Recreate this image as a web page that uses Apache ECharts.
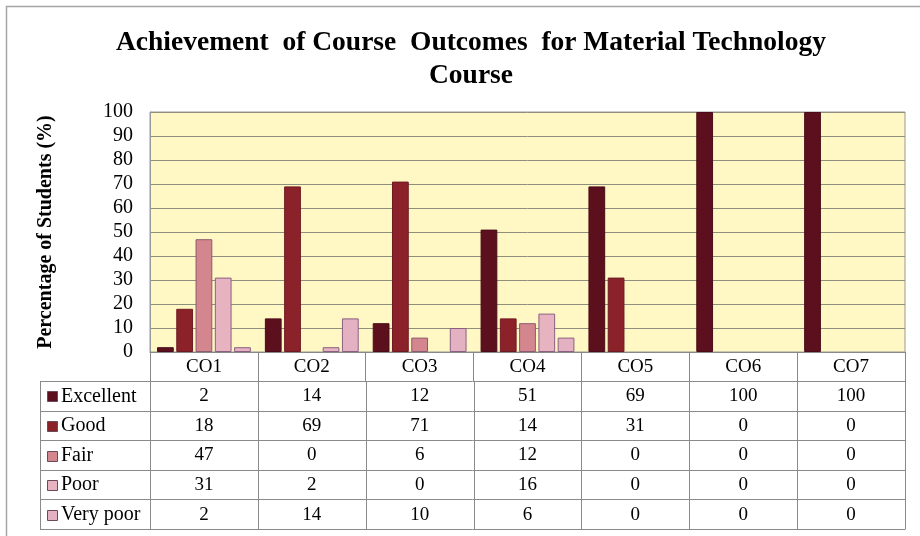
<!DOCTYPE html>
<html>
<head>
<meta charset="utf-8">
<script src="https://cdn.jsdelivr.net/npm/echarts@6/dist/echarts.min.js"></script>
<style>
html,body{margin:0;padding:0;background:#fff;}
#chart{width:920px;height:536px;}
</style>
</head>
<body>
<div id="chart"></div>
<script>
var categories = ['CO1','CO2','CO3','CO4','CO5','CO6','CO7'];
var seriesNames = ['Excellent','Good','Fair','Poor','Very poor'];
var excellent = [2,14,12,51,69,100,100];
var good = [18,69,71,14,31,0,0];
var fair = [47,0,6,12,0,0,0];
var poor = [31,2,0,16,0,0,0];
var veryPoor = [2,14,10,6,0,0,0];
var yTicks = [0,10,20,30,40,50,60,70,80,90,100];

var seriesData = [excellent, good, fair, poor, veryPoor];
var colors = ['#5c101e','#8c2229','#d4868e','#e8b3c0','#e4b1c3'];
var borders = ['#4a0c18','#6e1a22','#8a5a70','#8a6080','#8a6080'];
var FONT = 'Liberation Serif';

var chart = echarts.init(document.getElementById('chart'), null, {renderer:'canvas'});

var series = seriesNames.map(function(n, i){
  return {
    name: n, type: 'bar',
    data: seriesData[i].map(function(v){
      return v === 0 ? {value: v, itemStyle: {borderWidth: 0}} : v;
    }),
    barCategoryGap: '13%', barGap: '15%',
    itemStyle: {color: colors[i], borderColor: borders[i], borderWidth: 1},
    emphasis: {disabled: true}, animation: false
  };
});

chart.setOption({
  animation: false,
  backgroundColor: '#fff',
  title: {
    text: 'Achievement  of Course  Outcomes  for Material Technology\nCourse',
    left: 466, top: 21, textAlign: 'center',
    textStyle: {fontFamily: FONT, fontWeight: 'bold', fontSize: 27.5, lineHeight: 33, color: '#000'}
  },
  grid: {
    left: 150, right: 15, top: 112, bottom: 184,
    show: true, backgroundColor: '#fff8c4', borderColor: '#999', borderWidth: 1
  },
  xAxis: {
    type: 'category', data: categories,
    axisLine: {show: true, lineStyle: {color: '#888', width: 1}},
    axisTick: {show: true, length: 29, lineStyle: {color: '#888'}},
    axisLabel: {fontFamily: FONT, fontSize: 19, color: '#000', margin: 6}
  },
  yAxis: {
    type: 'value', min: 0, max: 100, interval: 10,
    name: 'Percentage of Students (%)', nameLocation: 'middle', nameGap: 94,
    nameRotate: 90,
    nameTextStyle: {fontFamily: FONT, fontWeight: 'bold', fontSize: 20, color: '#000'},
    axisLine: {show: true, lineStyle: {color: '#999'}},
    axisTick: {show: false},
    axisLabel: {fontFamily: FONT, fontSize: 20, color: '#000', margin: 17,
      formatter: function(v){ return yTicks.indexOf(v) >= 0 ? String(v) : ''; }},
    splitLine: {show: true, lineStyle: {color: '#8f8f80', width: 1}}
  },
  series: series
});

// Data table below the axis
var tableLeft = 40, tableRight = 905;
var rowTop = 381, rowH = 29.6;
var xs = categories.map(function(c){ return chart.convertToPixel({xAxisIndex:0}, c); });
var bandW = xs.length > 1 ? xs[1] - xs[0] : 108;
var g = [];
var lineStyle = {stroke: '#8a8a8a', lineWidth: 1};
g.push({type:'rect', shape:{x:6.5,y:6.5,width:930,height:540}, style:{fill:null, stroke:'#a6a6a6', lineWidth:1.5}, silent:true});
for (var r = 0; r <= seriesNames.length; r++) {
  var y = Math.round(rowTop + r*rowH) + 0.5;
  g.push({type:'line', shape:{x1:tableLeft, y1:y, x2:tableRight, y2:y}, style:lineStyle, silent:true});
}
var yb = Math.round(rowTop + seriesNames.length*rowH) + 0.5;
g.push({type:'line', shape:{x1:tableLeft+0.5, y1:rowTop, x2:tableLeft+0.5, y2:yb}, style:lineStyle, silent:true});
for (var c = 0; c <= categories.length; c++) {
  var x = Math.round(xs[0] - bandW/2 + c*bandW) + 0.5;
  g.push({type:'line', shape:{x1:x, y1:rowTop, x2:x, y2:yb}, style:lineStyle, silent:true});
}
for (var r2 = 0; r2 < seriesNames.length; r2++) {
  var cy = rowTop + r2*rowH + rowH/2 + 0.5;
  g.push({type:'rect', shape:{x:47.5, y:Math.round(cy-5)+0.5, width:10, height:10},
    style:{fill: colors[r2], stroke: '#6a4a5a', lineWidth: 1}, silent:true});
  g.push({type:'text', x:61, y:cy, style:{text: seriesNames[r2], fontFamily: FONT, fontSize: 20, fill:'#000', align:'left', verticalAlign:'middle'}, silent:true});
  for (var c2 = 0; c2 < categories.length; c2++) {
    g.push({type:'text', x: xs[c2], y: cy, style:{text: String(seriesData[r2][c2]), fontFamily: FONT, fontSize: 19, fill:'#000', align:'center', verticalAlign:'middle'}, silent:true});
  }
}
chart.setOption({graphic: {elements: g}});
</script>
</body>
</html>
